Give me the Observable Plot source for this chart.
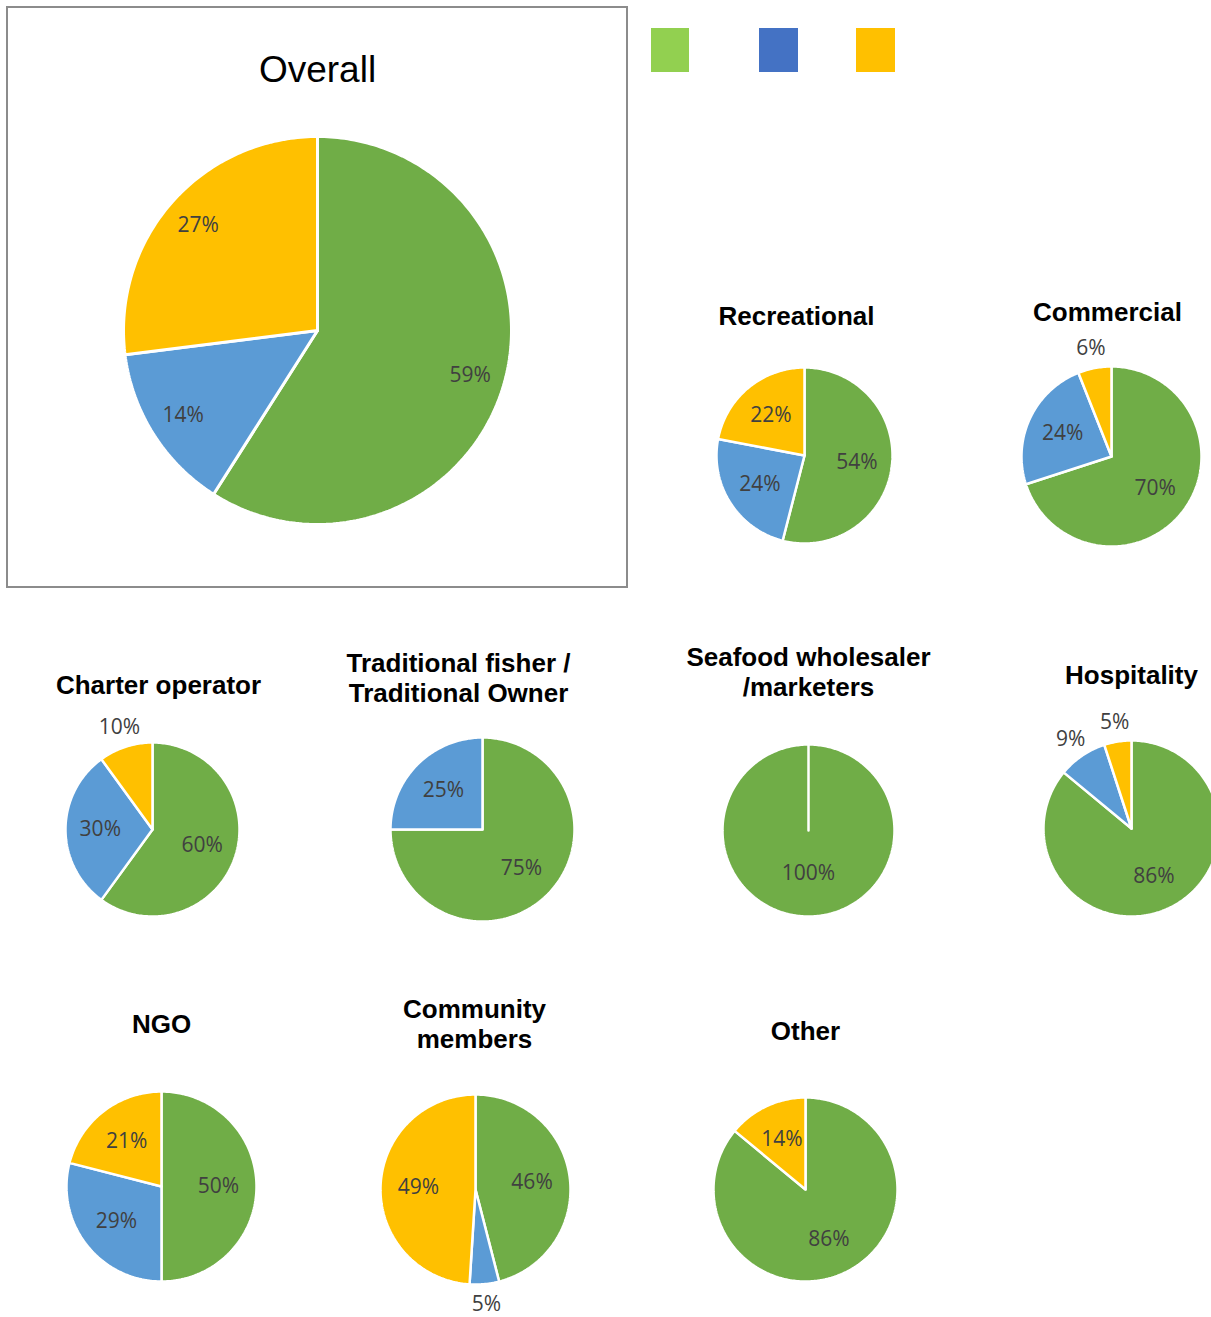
<!DOCTYPE html>
<html>
<head>
<meta charset="utf-8">
<script src="https://cdn.jsdelivr.net/npm/d3@7"></script>
<script src="https://cdn.jsdelivr.net/npm/@observablehq/plot@0.6"></script>
<style>
  html, body { margin: 0; padding: 0; background: #fff; }
  #chart { width: 1211px; height: 1317px; }
</style>
</head>
<body>
<div id="chart"></div>
<script>
// ---- Data ----
const categories = ["Category 1", "Category 2", "Category 3"];
const sliceColors = ["#70AD47", "#5B9BD5", "#FFC000"];
const legendColors = ["#92D050", "#4472C4", "#FFC000"];

const groups = [
  "Overall", "Recreational", "Commercial", "Charter operator",
  "Traditional fisher /\nTraditional Owner", "Seafood wholesaler\n/marketers",
  "Hospitality", "NGO", "Community\nmembers", "Other"
];
const cat1Values = [59, 54, 70, 60, 75, 100, 86, 50, 46, 86];
const cat2Values = [14, 24, 24, 30, 25, 0, 9, 29, 5, 0];
const cat3Values = [27, 22, 6, 10, 0, 0, 5, 21, 49, 14];

// ---- Layout (pixel positions of each pie and its title) ----
const layout = [
  {cx: 317,  cy: 330,  r: 194, tx: 317,  ty: 70,   big: true},
  {cx: 804,  cy: 455,  r: 88,  tx: 796,  ty: 315},
  {cx: 1111, cy: 456,  r: 90,  tx: 1107, ty: 311},
  {cx: 152,  cy: 829,  r: 87,  tx: 158,  ty: 684},
  {cx: 482,  cy: 829,  r: 92,  tx: 458,  ty: 677},
  {cx: 808,  cy: 830,  r: 86,  tx: 808,  ty: 671},
  {cx: 1131, cy: 828,  r: 88,  tx: 1131, ty: 674},
  {cx: 161,  cy: 1186, r: 95,  tx: 161,  ty: 1023},
  {cx: 475,  cy: 1189, r: 95,  tx: 474,  ty: 1023},
  {cx: 805,  cy: 1189, r: 92,  tx: 805,  ty: 1030}
];
const overallBox = {x1: 7, y1: 7, x2: 627, y2: 587};
const legendLayout = [
  {x1: 651, x2: 689, y1: 28, y2: 72},
  {x1: 759, x2: 798, y1: 28, y2: 72},
  {x1: 856, x2: 895, y1: 28, y2: 72}
];

// ---- Build slices ----
const W = 1211, H = 1317;
const pie = d3.pie().sort(null).value(d => d.value);
const polyPoints = [];
const labels = [];
const titles = [];
groups.forEach((g, i) => {
  const L = layout[i];
  titles.push({text: g, x: L.tx, y: L.ty, big: !!L.big});
  const vals = [cat1Values[i], cat2Values[i], cat3Values[i]];
  const total = d3.sum(vals);
  const slices = categories.map((c, k) => ({category: c, value: vals[k]}));
  const arcs = pie(slices);
  arcs.forEach((a, k) => {
    if (a.data.value <= 0) return;
    const id = `${i}-${k}`;
    const p = [];
    p.push([L.cx, L.cy]);
    const n = Math.max(2, Math.ceil((a.endAngle - a.startAngle) / (Math.PI / 180)));
    for (let j = 0; j <= n; j++) {
      const t = a.startAngle + (a.endAngle - a.startAngle) * j / n;
      p.push([L.cx + L.r * Math.sin(t), L.cy - L.r * Math.cos(t)]);
    }
    p.push([L.cx, L.cy]);
    p.forEach(([x, y]) => polyPoints.push({id, category: a.data.category, x, y, big: !!L.big}));
    // label
    const mid = (a.startAngle + a.endAngle) / 2;
    const pct = a.data.value / total * 100;
    let dist;
    if (L.big) dist = 0.82 * L.r;
    else if (pct <= 10) dist = L.r + 20;
    else if (pct >= 99.5) dist = 0.5 * L.r;
    else dist = 0.6 * L.r;
    labels.push({
      text: Math.round(pct) + "%",
      x: L.cx + dist * Math.sin(mid),
      y: L.cy - dist * Math.cos(mid)
    });
  });
});

const marks = [
  Plot.rect([overallBox], {x1: "x1", x2: "x2", y1: "y1", y2: "y2", fill: "none", stroke: "#8c8c8c", strokeWidth: 2}),
  ...legendLayout.map((l, k) => Plot.rect([l], {x1: "x1", x2: "x2", y1: "y1", y2: "y2", fill: legendColors[k]})),
  Plot.line(polyPoints.filter(d => d.big), {x: "x", y: "y", z: "id", fill: "category", stroke: "white", strokeWidth: 3, strokeLinejoin: "miter", curve: "linear"}),
  Plot.line(polyPoints.filter(d => !d.big), {x: "x", y: "y", z: "id", fill: "category", stroke: "white", strokeWidth: 2.5, strokeLinejoin: "miter", curve: "linear"}),
  Plot.text(labels, {x: "x", y: "y", text: "text", fill: "#404040", fontSize: 21, fontFamily: "Open Sans"}),
  Plot.text(titles.filter(d => d.big), {x: "x", y: "y", text: "text", fill: "#000", fontSize: 37, fontFamily: "Liberation Sans"}),
  Plot.text(titles.filter(d => !d.big), {x: "x", y: "y", text: "text", fill: "#000", fontSize: 26, fontWeight: "bold", fontFamily: "Liberation Sans", lineHeight: 1.15})
];

const chart = Plot.plot({
  width: W,
  height: H,
  margin: 0,
  x: {domain: [0, W], range: [0, W], axis: null},
  y: {domain: [0, H], range: [0, H], axis: null},
  color: {domain: categories, range: sliceColors},
  style: {background: "white", overflow: "hidden"},
  marks
});
document.getElementById("chart").appendChild(chart);
</script>
</body>
</html>
